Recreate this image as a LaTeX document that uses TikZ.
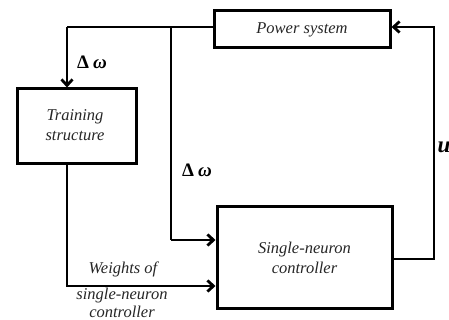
\documentclass[tikz,border=0pt]{standalone}
\usepackage{fontspec}
\setmainfont{Liberation Serif}
\usetikzlibrary{arrows.meta}
\begin{document}
\begin{tikzpicture}[x=1pt,y=-1pt,
  blk/.style={draw=black,line width=3pt,minimum width=0pt,inner sep=0pt},
  wire/.style={line width=2.8pt,line join=miter},
  arr/.style={wire,-{Straight Barb[length=6pt,width=11pt,line width=2.8pt]}},
  lbl/.style={font=\fontsize{16.5}{20}\selectfont\itshape,text=black!85,align=center},
  sym/.style={font=\fontsize{19}{21}\selectfont\bfseries}]
\useasboundingbox (0,0) rectangle (449,320);
% blocks
\node[blk,minimum width=176pt,minimum height=37pt] (ps) at (302,29.5) {};
\node[lbl] at (ps) {Power system};
\node[blk,minimum width=119pt,minimum height=75pt] (ts) at (76.5,126.5) {};
\node[lbl] at (75,125) {Training\\structure};
\node[blk,minimum width=175pt,minimum height=101pt] (snc) at (304.5,257.5) {};
\node[lbl] at (304.5,258) {Single-neuron\\controller};
% junction coordinates
\coordinate (tl) at (67,27);
\coordinate (tap) at (171,27);
\coordinate (bl) at (171,240);
\coordinate (wd) at (67,286);
\coordinate (ur) at (434,259);
\coordinate (ut) at (434,27);
% feedback of frequency deviation
\draw[wire] (ps.west |- tl) -- (tl);
\draw[arr] (tl) -- (tl |- ts.north);
\draw[wire] (tap) -- (bl);
\draw[arr] (bl) -- (bl -| snc.west);
% weights to controller
\draw[arr] (wd |- ts.south) -- (wd) -- (wd -| snc.west);
% control signal
\draw[arr] (snc.east |- ur) -- (ur) -- (ut) -- (ut -| ps.east);
% labels
\node[sym] at (92,62) {Δ\hspace{4pt}\itshape ω};
\node[sym] at (197,170) {Δ\hspace{4pt}\itshape ω};
\node[sym,font=\fontsize{23}{25}\selectfont\bfseries] at (444,147) {\itshape u};
\node[lbl] at (123,269) {Weights of};
\node[lbl] at (122,296) {single-neuron};
\node[lbl] at (122,312) {controller};
\end{tikzpicture}
\end{document}
